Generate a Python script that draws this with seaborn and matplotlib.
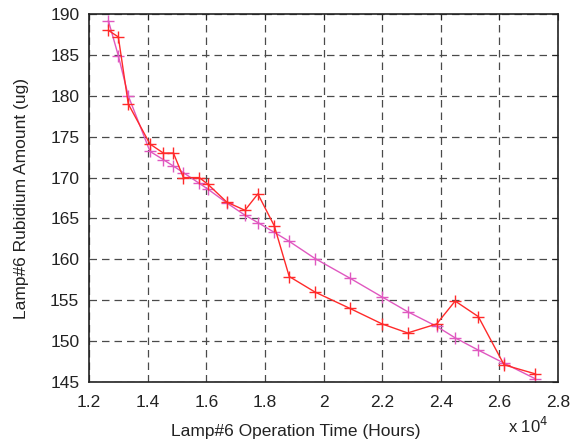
import matplotlib
matplotlib.use('Agg')
import matplotlib.pyplot as plt
import matplotlib.ticker as mticker
import numpy as np
import pandas as pd
import seaborn as sns

# operation time (hours), shared by both series
hours = [12660, 13000, 13340, 14080, 14535, 14880, 15220, 15760, 16050,
         16700, 17320, 17760, 18320, 18830, 19710, 20900, 22000, 22870,
         23860, 24490, 25280, 26160, 27220]
measured = [188.0, 187.2, 179.0, 174.1, 173.0, 173.0, 170.0, 170.0, 169.2,
            167.0, 166.0, 168.0, 164.1, 157.9, 156.0, 154.0, 152.1, 151.0,
            152.1, 154.9, 153.0, 147.1, 146.0]
fitted = [189.2, 184.9, 180.0, 173.2, 172.2, 171.4, 170.6, 169.3, 168.6,
          166.9, 165.4, 164.5, 163.3, 162.2, 160.1, 157.7, 155.4, 153.6,
          151.8, 150.4, 148.9, 147.3, 145.4]

df = pd.DataFrame({'hours': hours + hours,
                   'amount': measured + fitted,
                   'series': ['measured'] * len(hours) + ['fitted'] * len(hours)})

sns.set_style("white")
plt.rcParams['font.family'] = ['Liberation Sans', 'DejaVu Sans']

fig = plt.figure(figsize=(5.72, 4.48), dpi=100)
ax = fig.add_axes([0.1556, 0.1473, 0.82, 0.8214])

palette = {'measured': '#ff2a2a', 'fitted': '#e058c0'}
sns.lineplot(data=df, x='hours', y='amount', hue='series', palette=palette,
             hue_order=['fitted', 'measured'], marker='+', markersize=9,
             linewidth=1.0, legend=False, ax=ax,
             estimator=None, sort=False)
# '+' markers are drawn by edge colour, seaborn defaults it to white
for ln in ax.get_lines():
    ln.set_markeredgecolor(ln.get_color())
    ln.set_markeredgewidth(1.0)

ax.set_xlim(12000, 28000)
ax.set_ylim(145, 190)
ax.xaxis.set_major_locator(mticker.MultipleLocator(2000))
ax.yaxis.set_major_locator(mticker.MultipleLocator(5))
ax.xaxis.set_major_formatter(mticker.FuncFormatter(lambda v, p: f'{v/1e4:g}'))

ax.grid(True, linestyle=(0, (6, 4)), color='#4a4a4a', linewidth=0.9)
ax.tick_params(direction='in', length=4, top=True, right=True, labelsize=12.5,
               colors='#222222')
ax.tick_params(axis='x', pad=9)
ax.tick_params(axis='y', pad=7)
for s in ax.spines.values():
    s.set_color('#222222')
    s.set_linewidth(1.2)

ax.set_xlabel('Lamp#6 Operation Time (Hours)', fontsize=12.5, color='#222222')
ax.set_ylabel('Lamp#6 Rubidium Amount (ug)', fontsize=12.5, color='#222222', labelpad=15)
ax.xaxis.set_label_coords(0.44, -0.115)
fig.text(0.888, 0.034, 'x 10$^4$', fontsize=12, color='#222222')

fig.savefig('out.png', dpi=100)
